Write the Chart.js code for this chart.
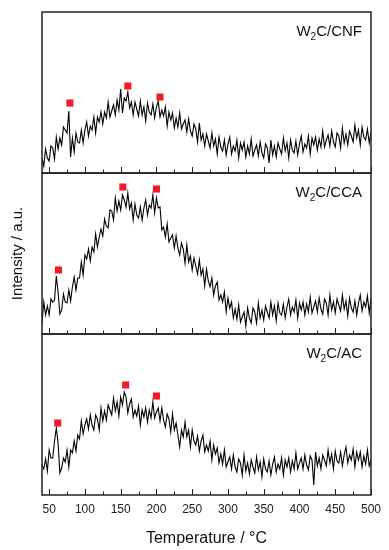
<!DOCTYPE html>
<html>
<head>
<meta charset="utf-8">
<title>TPR W2C</title>
<script src="https://cdn.jsdelivr.net/npm/chart.js@4.4.1/dist/chart.umd.min.js"></script>
<style>
  body { margin: 0; background: #fff; }
  #grafico { display: block; }
</style>
</head>
<body>
<canvas id="grafico" width="389" height="550"></canvas>
<script>
// temperatura: 40 a 500 °C, passo 2.5
const tempInicio = 40;
const tempPasso = 2.5;
const xTicks = [50, 100, 150, 200, 250, 300, 350, 400, 450, 500];
const nomesPaineis = ["CNF", "CCA", "AC"];

const intensidadeCNF = [
  15, 7, 24, 15, 12, 27, 25, 14, 36, 24, 35, 28, 46, 43, 40, 62, 16, 35, 21, 40,
  31, 30, 43, 30, 43, 51, 37, 47, 43, 56, 40, 56, 51, 61, 49, 61, 55, 71, 56, 62,
  68, 58, 73, 63, 84, 60, 75, 72, 81, 65, 71, 58, 71, 64, 57, 72, 58, 66, 52, 70,
  61, 58, 69, 55, 66, 72, 56, 63, 57, 66, 47, 61, 53, 60, 45, 55, 46, 60, 44, 49,
  53, 41, 54, 42, 37, 49, 44, 31, 50, 33, 39, 27, 39, 32, 25, 40, 27, 34, 19, 36,
  26, 22, 33, 18, 29, 36, 19, 27, 22, 33, 15, 30, 23, 31, 16, 27, 19, 34, 17, 23,
  28, 17, 31, 20, 15, 29, 25, 10, 33, 18, 27, 16, 30, 24, 19, 35, 22, 30, 15, 33,
  23, 20, 32, 18, 29, 37, 21, 29, 25, 37, 19, 35, 28, 36, 23, 34, 26, 42, 26, 33,
  38, 27, 42, 31, 26, 40, 37, 25, 45, 30, 39, 28, 42, 37, 31, 48, 35, 43, 28, 46,
  36, 33, 44, 30, 41,
];

const intensidadeCCA = [
  11, 32, 19, 28, 19, 35, 32, 34, 58, 42, 20, 24, 40, 32, 31, 44, 33, 47, 57, 44,
  56, 56, 72, 59, 79, 75, 85, 73, 87, 82, 100, 87, 97, 105, 98, 115, 108, 106, 124, 123,
  114, 136, 123, 133, 124, 139, 134, 127, 141, 125, 131, 114, 130, 119, 116, 127, 114, 126, 134, 119,
  129, 126, 139, 121, 136, 126, 127, 104, 107, 97, 110, 92, 96, 99, 86, 98, 86, 79, 91, 85,
  71, 89, 72, 78, 64, 76, 68, 60, 74, 59, 65, 48, 65, 53, 47, 56, 39, 48, 52, 34,
  39, 32, 42, 22, 36, 26, 32, 16, 25, 15, 29, 12, 17, 22, 8, 26, 16, 11, 26, 22,
  11, 31, 16, 24, 14, 28, 22, 16, 32, 19, 28, 13, 31, 21, 19, 30, 16, 27, 35, 19,
  27, 22, 34, 16, 31, 24, 32, 19, 30, 22, 37, 21, 27, 33, 22, 36, 25, 20, 35, 31,
  19, 39, 24, 32, 21, 35, 29, 23, 39, 25, 33, 18, 36, 26, 22, 33, 19, 31, 39, 23,
  32, 27, 38, 21, 36,
];

const intensidadeAC = [
  30, 26, 36, 24, 45, 37, 37, 54, 67, 52, 22, 27, 37, 33, 45, 28, 45, 42, 54, 44,
  60, 56, 74, 61, 70, 76, 66, 80, 70, 65, 80, 76, 65, 87, 74, 84, 75, 90, 85, 80,
  97, 84, 93, 79, 98, 90, 103, 98, 82, 91, 96, 78, 85, 79, 89, 70, 85, 78, 87, 73,
  85, 77, 93, 77, 83, 87, 74, 87, 75, 68, 81, 76, 63, 81, 65, 72, 60, 48, 65, 58,
  73, 58, 65, 48, 65, 54, 50, 59, 44, 54, 60, 43, 50, 44, 54, 35, 50, 41, 47, 32,
  41, 31, 45, 28, 33, 38, 26, 40, 28, 23, 36, 32, 20, 40, 24, 32, 21, 35, 28, 22,
  38, 25, 33, 18, 36, 26, 23, 34, 20, 31, 38, 23, 31, 26, 37, 20, 35, 28, 37, 23,
  34, 26, 42, 26, 32, 37, 26, 40, 30, 25, 39, 35, 10, 43, 29, 37, 26, 40, 35, 29,
  45, 32, 41, 26, 44, 34, 32, 43, 29, 40, 48, 32, 40, 35, 46, 28, 43, 35, 43, 28,
  39, 31, 45, 29, 35,
];

// marcadores vermelhos (picos)
const picosTempCNF = [79, 160, 205];
const picosAltCNF = [70, 87, 76];
const picosTempCCA = [63, 153, 200];
const picosAltCCA = [64, 147, 145];
const picosTempAC = [62, 157, 200];
const picosAltAC = [72, 110, 99];

const fonte = "'Liberation Sans', Arial, sans-serif";
let chart;

function montarPontos(valores) {
  return valores.map((v, i) => ({ x: tempInicio + i * tempPasso, y: v }));
}

function montarPicos(temps, alts) {
  return temps.map((t, i) => ({ x: t, y: alts[i] }));
}

function escalaPainel() {
  return {
    type: "linear",
    stack: "paineis",
    stackWeight: 1,
    min: 0,
    max: 161,
    ticks: { display: false },
    grid: { display: false, drawTicks: false },
    border: { display: false },
  };
}

function datasetLinha(valores, eixo) {
  return {
    data: montarPontos(valores),
    yAxisID: eixo,
    borderColor: "#000",
    borderWidth: 1.1,
    pointRadius: 0,
    tension: 0,
    order: 1,
  };
}

function datasetPicos(temps, alts, eixo) {
  return {
    data: montarPicos(temps, alts),
    yAxisID: eixo,
    showLine: false,
    pointStyle: "rect",
    pointRadius: 5,
    backgroundColor: "#ee1c24",
    borderWidth: 0,
    order: 0,
  };
}

function desenharRotulo(ctx, nome, xDir, yBase) {
  ctx.fillStyle = "#111";
  ctx.textBaseline = "alphabetic";
  ctx.textAlign = "left";
  ctx.font = "15px " + fonte;
  const wW = ctx.measureText("W").width;
  const resto = "C/" + nome;
  const wResto = ctx.measureText(resto).width;
  ctx.font = "10px " + fonte;
  const w2 = ctx.measureText("2").width;
  let x = xDir - wW - w2 - wResto;
  ctx.font = "15px " + fonte;
  ctx.fillText("W", x, yBase);
  x += wW;
  ctx.font = "10px " + fonte;
  ctx.fillText("2", x, yBase + 4);
  x += w2;
  ctx.font = "15px " + fonte;
  ctx.fillText(resto, x, yBase);
}

const decoracaoPaineis = {
  id: "decoracaoPaineis",
  afterDatasetsDraw(chart) {
    const { ctx, chartArea, scales } = chart;
    const ex = scales.x;
    ctx.save();
    ["yTop", "yMid", "yBot"].forEach((id, k) => {
      const s = scales[id];
      ctx.strokeStyle = "#222";
      ctx.lineWidth = 1;
      for (let t = 50; t <= 500; t += 25) {
        const px = Math.round(ex.getPixelForValue(t)) + 0.5;
        const len = t % 50 === 0 ? 6 : 3.5;
        ctx.beginPath();
        ctx.moveTo(px, s.bottom);
        ctx.lineTo(px, s.bottom - len);
        ctx.stroke();
      }
      ctx.lineWidth = 1.5;
      ctx.strokeRect(
        chartArea.left,
        s.top,
        chartArea.right - chartArea.left,
        s.bottom - s.top
      );
      desenharRotulo(ctx, nomesPaineis[k], chartArea.right - 9, s.top + 24);
    });

    ctx.translate(18, (chartArea.top + chartArea.bottom) / 2);
    ctx.rotate(-Math.PI / 2);
    ctx.font = "15px " + fonte;
    ctx.fillStyle = "#111";
    ctx.textAlign = "center";
    ctx.textBaseline = "middle";
    ctx.fillText("Intensity / a.u.", 0, 0);
    ctx.restore();
  },
};

document.addEventListener("DOMContentLoaded", () => {
  const ctx = document.getElementById("grafico").getContext("2d");
  chart = new Chart(ctx, {
    type: "line",
    data: {
      datasets: [
        datasetPicos(picosTempCNF, picosAltCNF, "yTop"),
        datasetPicos(picosTempCCA, picosAltCCA, "yMid"),
        datasetPicos(picosTempAC, picosAltAC, "yBot"),
        datasetLinha(intensidadeCNF, "yTop"),
        datasetLinha(intensidadeCCA, "yMid"),
        datasetLinha(intensidadeAC, "yBot"),
      ],
    },
    options: {
      responsive: false,
      animation: false,
      layout: { padding: { left: 42, right: 18, top: 12, bottom: 0 } },
      plugins: {
        legend: { display: false },
        tooltip: { enabled: false },
      },
      scales: {
        x: {
          type: "linear",
          min: 40,
          max: 500,
          afterBuildTicks: (s) => {
            s.ticks = xTicks.map((v) => ({ value: v }));
          },
          afterFit: (s) => {
            s.height = 55;
          },
          grid: { display: false, drawTicks: false },
          border: { display: false },
          ticks: {
            color: "#222",
            font: { family: fonte, size: 12 },
            padding: 7,
            maxRotation: 0,
            autoSkip: false,
          },
          title: {
            display: true,
            text: "Temperature / °C",
            color: "#111",
            font: { family: fonte, size: 16 },
            padding: { top: 0, bottom: 2 },
          },
        },
        // a primeira escala empilhada fica embaixo
        yBot: escalaPainel(),
        yMid: escalaPainel(),
        yTop: escalaPainel(),
      },
    },
    plugins: [decoracaoPaineis],
  });
});
</script>
</body>
</html>
